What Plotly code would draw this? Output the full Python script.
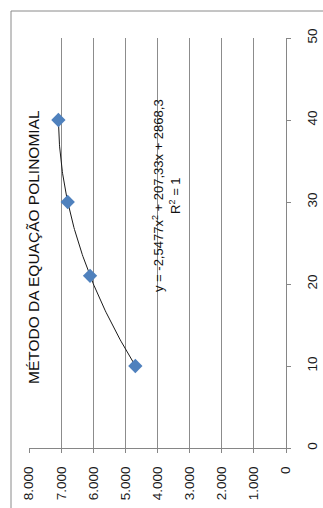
import numpy as np
import plotly.graph_objects as go

# Measured series (x = tempo, y = valor)
x_vals = [10, 21, 30, 40]
y_vals = [4690, 6100, 6795, 7085]

# Polynomial trendline coefficients (a·x² + b·x + c)
coef = [-2.5477, 207.33, 2868.3]

title_text = "MÉTODO DA EQUAÇÃO POLINOMIAL"
eq_text = "y = -2,5477x<sup>2</sup> + 207,33x + 2868,3<br>R<sup>2</sup> = 1"

x_ticks = [0, 10, 20, 30, 40, 50]
y_ticks = [0, 1000, 2000, 3000, 4000, 5000, 6000, 7000, 8000]

W, H = 323, 508
L, R, T, B = 29, 286, 38, 448  # plot area in pixels

# The chart is shown turned a quarter-turn: x data runs up the right axis,
# y data runs along the bottom axis from 8.000 (left) to 0 (right).
xs = np.linspace(min(x_vals), max(x_vals), 120)
ys = np.polyval(coef, xs)

fig = go.Figure()
fig.add_trace(go.Scatter(
    x=ys, y=xs, mode="lines",
    line=dict(color="#1a1a1a", width=1),
    hoverinfo="skip", showlegend=False,
))
fig.add_trace(go.Scatter(
    x=y_vals, y=x_vals, mode="markers",
    marker=dict(symbol="diamond", size=11, color="#4F81BD", line=dict(width=0)),
    showlegend=False,
))

font_main = "Liberation Sans, Arial, sans-serif"

fig.update_layout(
    width=W, height=H, autosize=False,
    margin=dict(l=L, r=W - R, t=T, b=H - B, pad=0, autoexpand=False),
    paper_bgcolor="white", plot_bgcolor="white",
    separators=",.",
    font=dict(family=font_main, size=13, color="#1a1a1a"),
    xaxis=dict(
        range=[8000, 0], tickvals=y_ticks, tickformat=",d",
        tickangle=-90, ticks="outside", ticklen=4, tickcolor="#868686",
        showline=True, linecolor="#868686", linewidth=1,
        showgrid=True, gridcolor="#8c8c8c", gridwidth=1,
        zeroline=False, ticklabelstandoff=8, automargin=False,
        tickfont=dict(size=13.5, color="#1a1a1a"),
    ),
    yaxis=dict(
        range=[0, 50], tickvals=x_ticks, side="right",
        tickangle=-90, ticks="outside", ticklen=4, tickcolor="#868686",
        showline=True, linecolor="#868686", linewidth=1,
        showgrid=False, zeroline=False, ticklabelstandoff=10, automargin=False,
        tickfont=dict(size=13.5, color="#1a1a1a"),
    ),
)

pw, ph = R - L, B - T


def px_x(p):
    return (p - L) / pw


def px_y(p):
    return (B - p) / ph


# Chart frame
fig.add_shape(type="rect", xref="paper", yref="paper",
              x0=px_x(11), x1=px_x(340), y0=px_y(530), y1=px_y(11),
              line=dict(color="#8a8a8a", width=1), fillcolor="rgba(0,0,0,0)",
              layer="below")

fig.add_annotation(
    text=title_text, xref="paper", yref="paper",
    x=px_x(33), y=px_y(247), textangle=-90, showarrow=False,
    font=dict(family=font_main, size=15.5, color="#111111"),
    xanchor="center", yanchor="middle",
)
fig.add_annotation(
    text=eq_text, xref="paper", yref="paper",
    x=px_x(166), y=px_y(196), textangle=-90, showarrow=False,
    font=dict(family=font_main, size=13, color="#111111"),
    xanchor="center", yanchor="middle", align="center",
)

fig.write_html("out.html")
